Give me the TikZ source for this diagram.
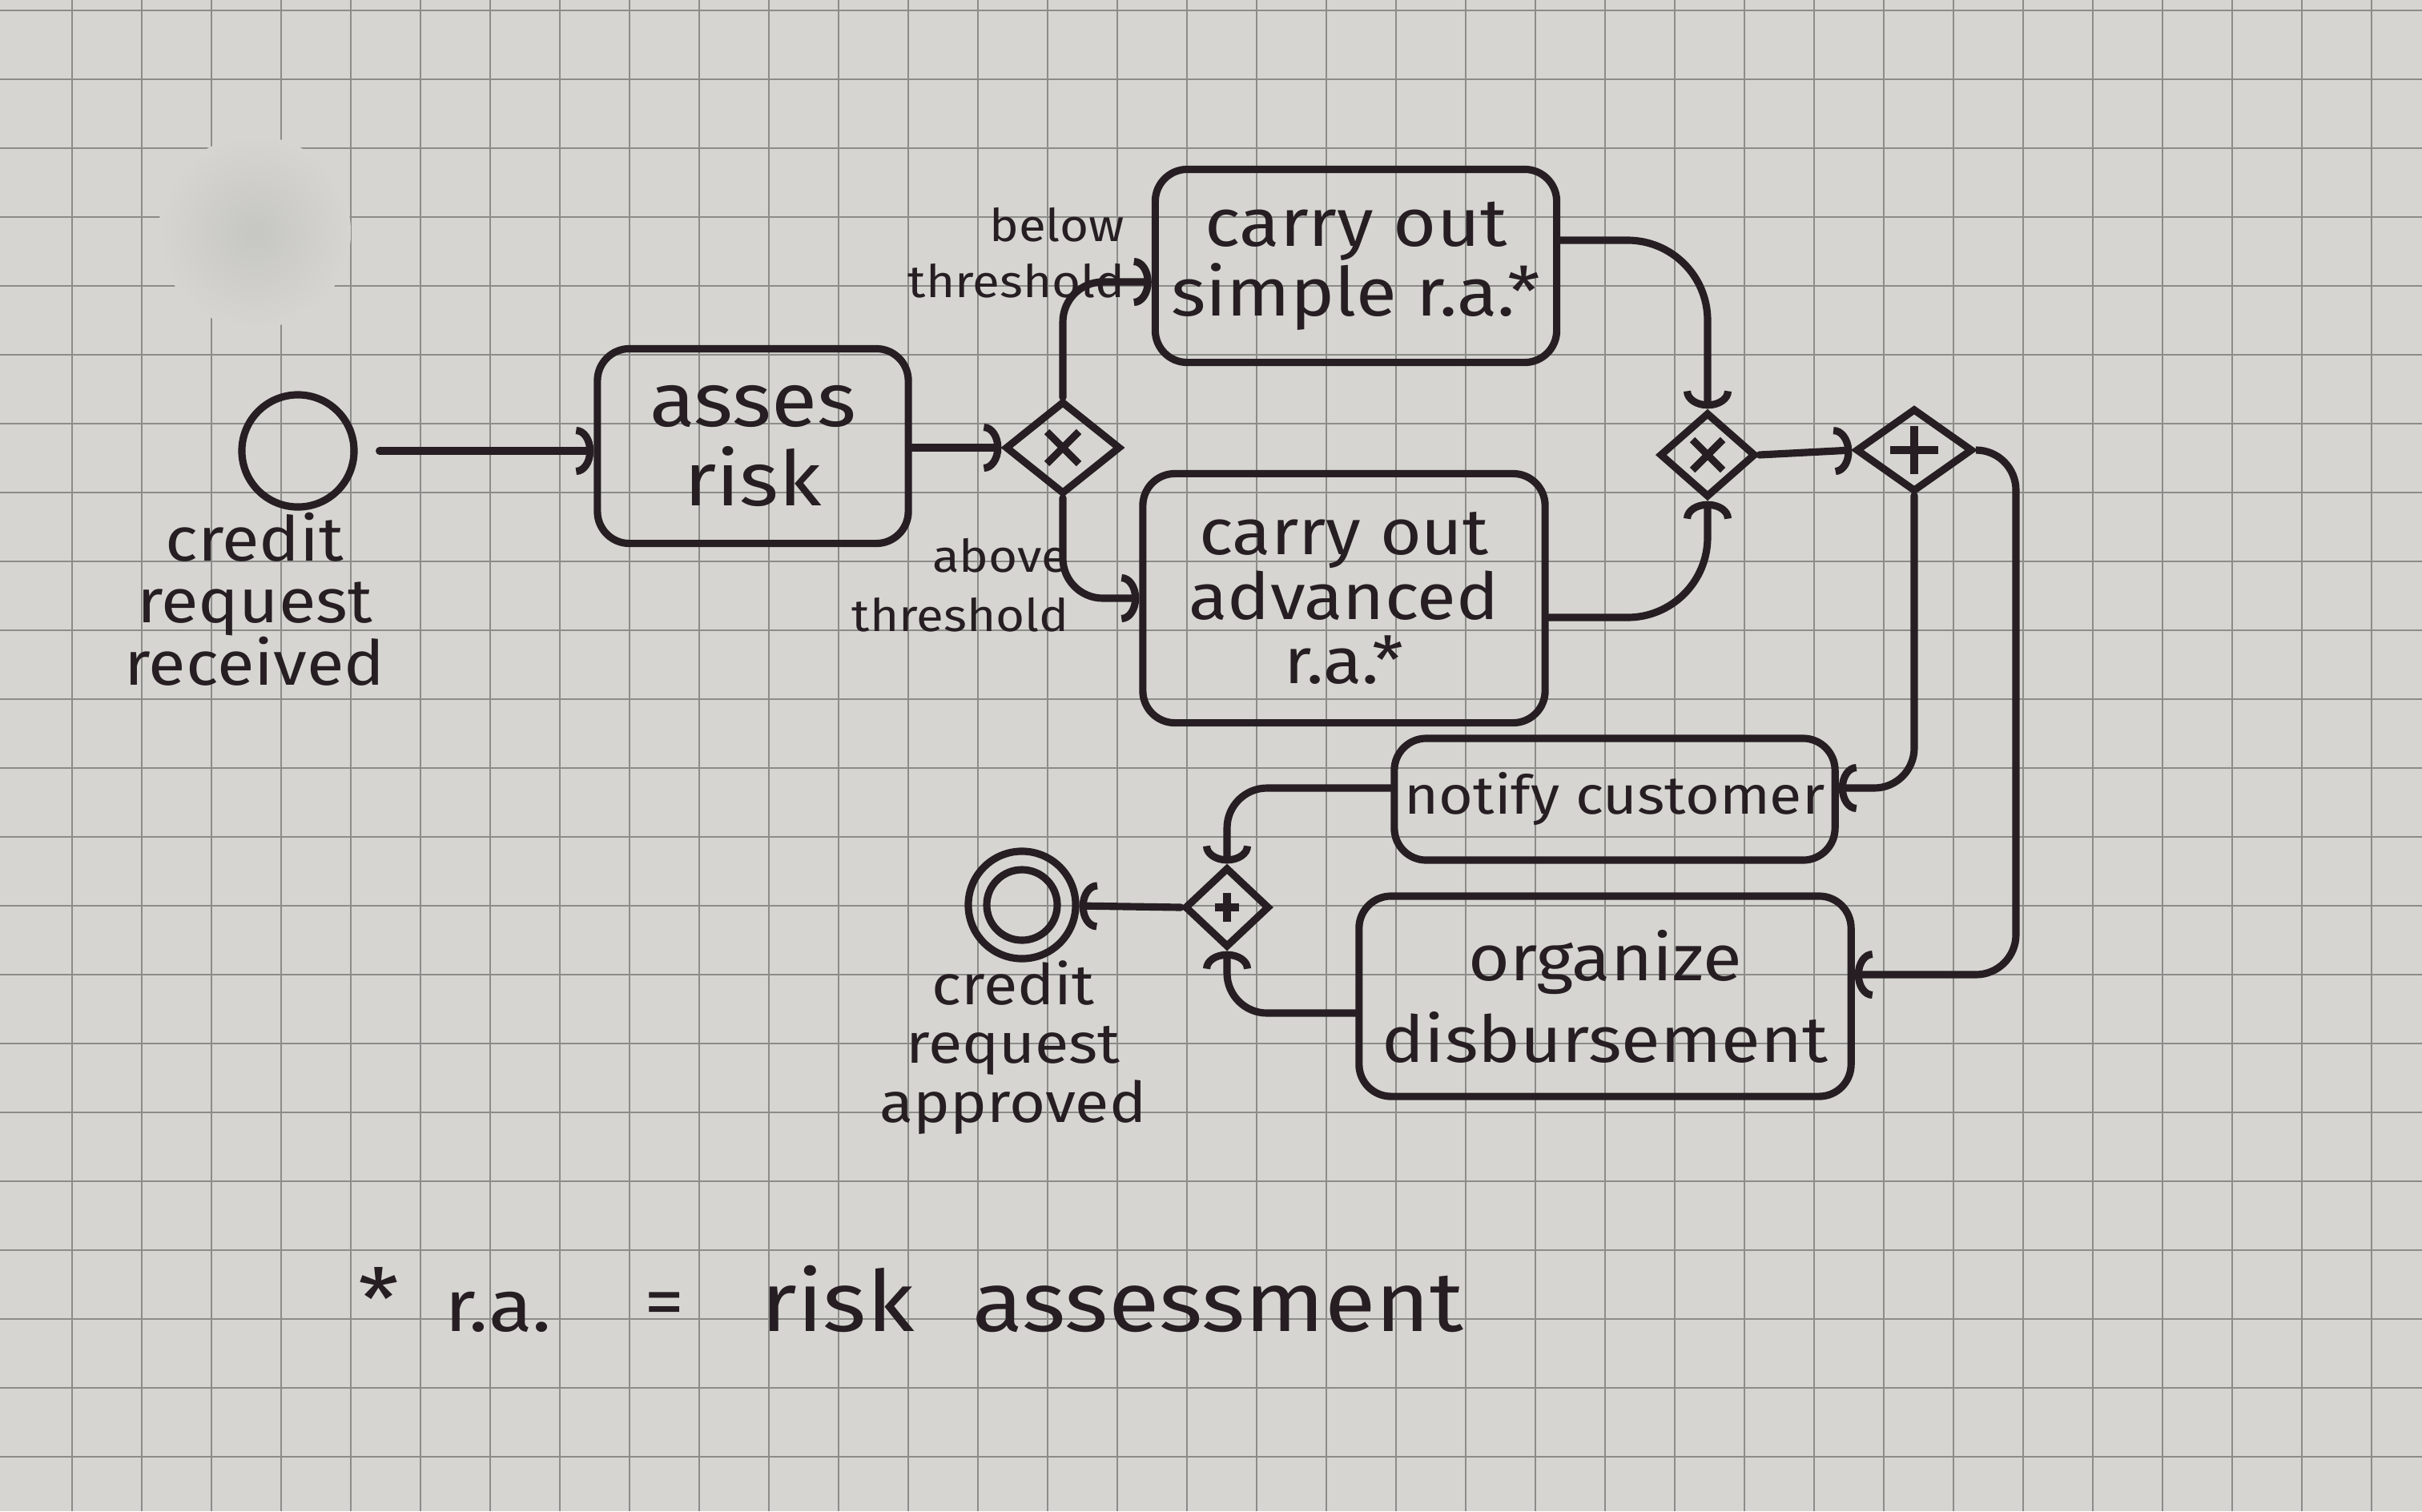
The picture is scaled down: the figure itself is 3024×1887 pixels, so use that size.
\documentclass[tikz,border=0pt]{standalone}
\usepackage{fontspec}
\setmainfont{Fira Sans}[FakeStretch=1.1]
\usetikzlibrary{shapes.geometric,arrows.meta}
\definecolor{paper}{RGB}{214,213,209}
\definecolor{gridc}{RGB}{140,140,137}
\definecolor{ink}{RGB}{38,30,34}
\definecolor{blobc}{RGB}{198,198,195}
\begin{document}
\begin{tikzpicture}[x=0.01cm,y=-0.01cm,
  inkline/.style={draw=ink,line width=2.6pt},
  task/.style={inkline, rounded corners=0.4cm, align=center, inner sep=0pt, text=ink},
  gateway/.style={diamond, inkline, inner sep=0pt},
  evt/.style={circle, inkline, inner sep=0pt},
  lbl/.style={text=ink, align=center, inner sep=0pt},
  flow/.style={inkline, line cap=round, -{Arc Barb[length=0.22cm,width=0.6cm]}}
]
\useasboundingbox (0,0) rectangle (3024,1887);
\fill[paper] (0,0) rectangle (3024,1887);
\foreach \gx in {90,177,...,3024} \draw[gridc, line width=0.75pt] (\gx,0) -- (\gx,1887);
\foreach \gy in {13,99,...,1887} \draw[gridc, line width=0.75pt] (0,\gy) -- (3024,\gy);
\shade[inner color=blobc, outer color=paper] (318,290) circle (1.2cm);

% events
\node[evt, minimum size=1.4cm] (start) at (372,563) {};
\node[lbl, font=\fontsize{22}{22}\selectfont] (startlbl) at (318,748) {credit\\request\\received};
\node[evt, minimum size=1.34cm] (finish) at (1276,1130) {};
\node[evt, minimum size=0.88cm] (finishin) at (finish.center) {};
\node[lbl, font=\fontsize{20}{21}\selectfont] (finishlbl) at (1265,1308) {credit\\request\\approved};

% tasks
\node[task, minimum width=3.88cm, minimum height=2.43cm, font=\fontsize{27}{28}\selectfont] (assess) at (940,557) {asses\\risk};
\node[task, minimum width=5.01cm, minimum height=2.41cm, font=\fontsize{24}{21}\selectfont] (simple) at (1693,332) {carry out\\simple r.a.*};
\node[task, minimum width=5.02cm, minimum height=3.11cm, font=\fontsize{23}{23}\selectfont] (adv) at (1678,747) {carry out\\advanced\\r.a.*};
\node[task, minimum width=5.5cm, minimum height=1.52cm, font=\fontsize{19}{19}\selectfont] (notify) at (2016,998) {notify customer};
\node[task, minimum width=6.14cm, minimum height=2.5cm, font=\fontsize{23}{29}\selectfont] (organize) at (2004,1244) {organize\\disbursement};

% gateways
\node[gateway, minimum width=1.44cm, minimum height=1.16cm] (gw1) at (1327,559) {};
\node[gateway, minimum width=1.2cm, minimum height=1.06cm] (gw2) at (2132,568) {};
\node[gateway, minimum width=1.46cm, minimum height=1.04cm] (gw3) at (2390,562) {};
\node[gateway, minimum width=1.06cm, minimum height=1.0cm] (gw4) at (1532,1133) {};
\draw[inkline] ([shift={(-20,-20)}]gw1.center) -- ([shift={(20,20)}]gw1.center)
               ([shift={(-20,20)}]gw1.center) -- ([shift={(20,-20)}]gw1.center);
\draw[inkline] ([shift={(-19,-19)}]gw2.center) -- ([shift={(19,19)}]gw2.center)
               ([shift={(-19,19)}]gw2.center) -- ([shift={(19,-19)}]gw2.center);
\draw[inkline] ([shift={(-30,0)}]gw3.center) -- ([shift={(30,0)}]gw3.center)
               ([shift={(0,-30)}]gw3.center) -- ([shift={(0,30)}]gw3.center);
\draw[inkline] ([shift={(-15,0)}]gw4.center) -- ([shift={(15,0)}]gw4.center)
               ([shift={(0,-18)}]gw4.center) -- ([shift={(0,18)}]gw4.center);

% gateway labels
\node[lbl, align=right, anchor=east, font=\fontsize{16}{20}\selectfont] (belowlbl) at (1405,316) {below\\threshold};
\node[lbl, align=right, anchor=east, font=\fontsize{16}{21}\selectfont] (abovelbl) at (1335,731) {above\\threshold};

% flows
\draw[flow, shorten <=0.27cm] (start) -- (start -| assess.west);
\draw[flow] (assess.east |- gw1.west) -- (gw1.west);
\draw[flow, rounded corners=0.5cm] (gw1.north) |- ([yshift=-0.2cm]simple.west);
\draw[flow, rounded corners=0.5cm] (gw1.south) |- (adv.west);
\draw[flow, rounded corners=1cm] ([yshift=0.32cm]simple.east) -| (gw2.north);
\draw[flow, rounded corners=1cm] ([yshift=-0.24cm]adv.east) -| (gw2.south);
\draw[flow] (gw2.east) -- (gw3.west);
\draw[flow, rounded corners=0.5cm] (gw3.south) |- ([yshift=0.14cm]notify.east);
\coordinate (c1) at (2517,1217);
\draw[flow, rounded corners=0.5cm] (gw3.east) -| (c1) -- ([yshift=0.27cm]organize.east);
\draw[flow, rounded corners=0.5cm] ([yshift=0.14cm]notify.west) -| (gw4.north);
\draw[flow, rounded corners=0.5cm] ([yshift=-0.21cm]organize.west) -| (gw4.south);
\draw[flow] (gw4.west) -- (finish);

% footnote
\node[lbl, anchor=base, font=\fontsize{30}{30}\selectfont] (fnstar) at (473,1660) {*};
\node[lbl, anchor=base, font=\fontsize{26}{26}\selectfont] (fnra) at (622,1662) {r.a.};
\node[lbl, anchor=base, font=\fontsize{26}{26}\selectfont] (fneq) at (830,1656) {=};
\node[lbl, anchor=base, font=\fontsize{30}{30}\selectfont] (fnrisk) at (1046,1662) {risk};
\node[lbl, anchor=base, font=\fontsize{30}{30}\selectfont] (fnass) at (1521,1662) {assessment};
\end{tikzpicture}
\end{document}
